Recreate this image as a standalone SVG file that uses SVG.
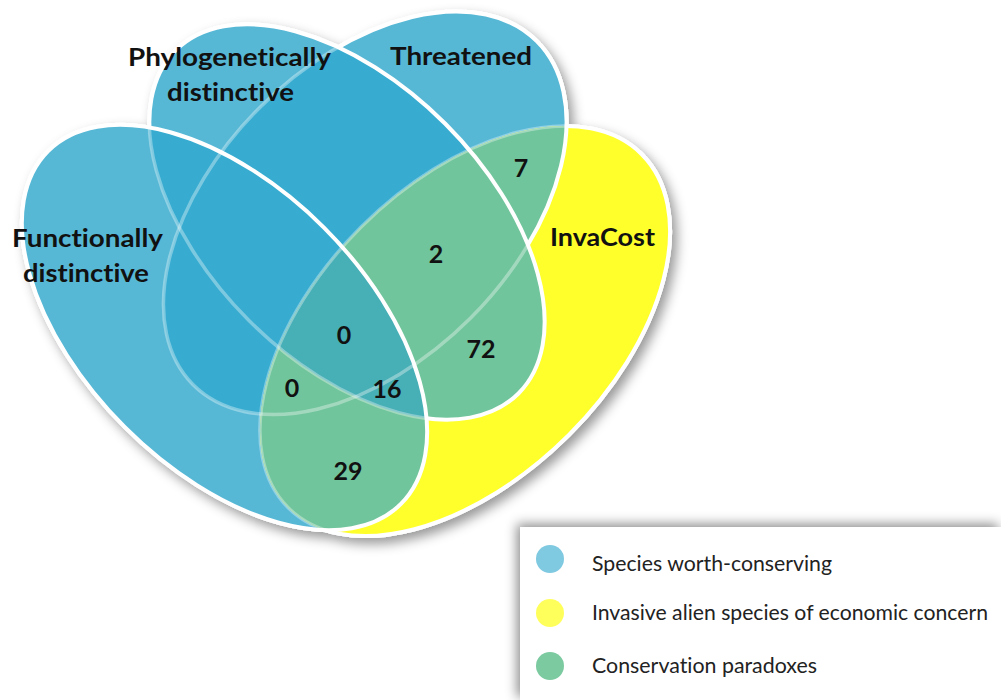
<svg xmlns="http://www.w3.org/2000/svg" xmlns:xlink="http://www.w3.org/1999/xlink" width="1001" height="700" viewBox="0 0 1001 700">
<style>
text{font-variant-ligatures:none;font-feature-settings:"liga" 0}
.lbl{font-family:Lato,"Liberation Sans",sans-serif;font-weight:bold;font-size:25px;fill:#111}
.num{font-family:Lato,"Liberation Sans",sans-serif;font-weight:bold;font-size:25px;fill:#111;text-anchor:middle}
.leg{font-family:Lato,"Liberation Sans",sans-serif;font-size:21px;fill:#222}
.full{fill:none;stroke:#fff;stroke-width:4}
.faint{fill:none;stroke:#fff;stroke-width:3.5;stroke-opacity:.35}
</style>
<defs>
<ellipse id="eA" cx="224.5" cy="327.5" rx="249.5" ry="141" transform="rotate(45 224.5 327.5)"/>
<ellipse id="eB" cx="347" cy="222" rx="242.5" ry="139" transform="rotate(45 347 222)"/>
<ellipse id="eC" cx="365" cy="213" rx="243" ry="149" transform="rotate(-45 365 213)"/>
<ellipse id="eD" cx="465" cy="331" rx="250" ry="147" transform="rotate(-45 465 331)"/>
<clipPath id="cA"><use xlink:href="#eA"/></clipPath>
<clipPath id="cB"><use xlink:href="#eB"/></clipPath>
<clipPath id="cC"><use xlink:href="#eC"/></clipPath>
<mask id="mNotA" maskUnits="userSpaceOnUse" x="0" y="0" width="1001" height="700">
<rect width="1001" height="700" fill="#fff"/><use xlink:href="#eA" fill="#000"/></mask>
<mask id="mA" maskUnits="userSpaceOnUse" x="0" y="0" width="1001" height="700">
<use xlink:href="#eA" fill="#fff"/></mask>
<mask id="mNotAB" maskUnits="userSpaceOnUse" x="0" y="0" width="1001" height="700">
<rect width="1001" height="700" fill="#fff"/><use xlink:href="#eA" fill="#000"/><use xlink:href="#eB" fill="#000"/></mask>
<mask id="mAB" maskUnits="userSpaceOnUse" x="0" y="0" width="1001" height="700">
<use xlink:href="#eA" fill="#fff"/><use xlink:href="#eB" fill="#fff"/></mask>
<mask id="mNotABC" maskUnits="userSpaceOnUse" x="0" y="0" width="1001" height="700">
<rect width="1001" height="700" fill="#fff"/><use xlink:href="#eA" fill="#000"/><use xlink:href="#eB" fill="#000"/><use xlink:href="#eC" fill="#000"/></mask>
<mask id="mABC" maskUnits="userSpaceOnUse" x="0" y="0" width="1001" height="700">
<use xlink:href="#eA" fill="#fff"/><use xlink:href="#eB" fill="#fff"/><use xlink:href="#eC" fill="#fff"/></mask>
<filter id="shadow" x="-10%" y="-10%" width="130%" height="130%">
<feDropShadow dx="5" dy="6" stdDeviation="6" flood-color="#000" flood-opacity="0.4"/>
</filter>
<filter id="legShadow" x="-10%" y="-20%" width="130%" height="150%">
<feDropShadow dx="-3" dy="-3" stdDeviation="6" flood-color="#000" flood-opacity="0.45"/>
</filter>
</defs>
<rect width="1001" height="700" fill="#fff"/>

<g id="underlay" filter="url(#shadow)" fill="#fff" stroke="#fff" stroke-width="4">
<use xlink:href="#eA"/><use xlink:href="#eB"/><use xlink:href="#eC"/><use xlink:href="#eD"/>
</g>

<g id="fills">
<use xlink:href="#eA" fill="#57B8D6"/>
<use xlink:href="#eB" fill="#57B8D6"/>
<use xlink:href="#eC" fill="#57B8D6"/>
<use xlink:href="#eA" fill="#37ACD0" clip-path="url(#cB)"/>
<use xlink:href="#eA" fill="#37ACD0" clip-path="url(#cC)"/>
<use xlink:href="#eB" fill="#37ACD0" clip-path="url(#cC)"/>
<use xlink:href="#eD" fill="#FFFF2B"/>
<use xlink:href="#eD" fill="#71C59C" clip-path="url(#cA)"/>
<use xlink:href="#eD" fill="#71C59C" clip-path="url(#cB)"/>
<use xlink:href="#eD" fill="#71C59C" clip-path="url(#cC)"/>
<g clip-path="url(#cA)"><use xlink:href="#eD" fill="#47AFB6" clip-path="url(#cB)"/></g>
</g>

<g id="set-invacost">
<use xlink:href="#eD" class="full" mask="url(#mNotABC)"/>
<use xlink:href="#eD" class="faint" mask="url(#mABC)"/>
</g>
<g id="set-threatened">
<use xlink:href="#eC" class="full" mask="url(#mNotAB)"/>
<use xlink:href="#eC" class="faint" mask="url(#mAB)"/>
</g>
<g id="set-phylogenetic">
<use xlink:href="#eB" class="full" mask="url(#mNotA)"/>
<use xlink:href="#eB" class="faint" mask="url(#mA)"/>
</g>
<g id="set-functional">
<use xlink:href="#eA" class="full"/>
</g>

<g id="connectors"/>

<g id="labels">
<text class="lbl" x="128" y="66" textLength="203" lengthAdjust="spacingAndGlyphs">Phylogenetically</text>
<text class="lbl" x="167" y="101" textLength="127" lengthAdjust="spacingAndGlyphs">distinctive</text>
<text class="lbl" x="390" y="65" textLength="142" lengthAdjust="spacingAndGlyphs">Threatened</text>
<text class="lbl" x="12" y="247" textLength="151" lengthAdjust="spacingAndGlyphs">Functionally</text>
<text class="lbl" x="23" y="282" textLength="126" lengthAdjust="spacingAndGlyphs">distinctive</text>
<text class="lbl" x="550" y="246" textLength="105" lengthAdjust="spacingAndGlyphs">InvaCost</text>
</g>

<g id="counts">
<text class="num" x="521" y="177">7</text>
<text class="num" x="436" y="263">2</text>
<text class="num" x="481" y="358">72</text>
<text class="num" x="344" y="344">0</text>
<text class="num" x="292" y="397">0</text>
<text class="num" x="387" y="398">16</text>
<text class="num" x="348" y="480">29</text>
</g>

<g id="legend">
<rect x="520" y="527" width="481" height="173" fill="#fff" filter="url(#legShadow)"/>
<circle cx="550" cy="559" r="14" fill="#7FC9E1"/>
<circle cx="550" cy="613" r="14" fill="#FFFF5C"/>
<circle cx="550" cy="666" r="14" fill="#7BCAA0"/>
<text class="leg" x="592" y="571" textLength="240" lengthAdjust="spacingAndGlyphs">Species worth-conserving</text>
<text class="leg" x="592" y="620" textLength="396" lengthAdjust="spacingAndGlyphs">Invasive alien species of economic concern</text>
<text class="leg" x="592" y="673" textLength="225" lengthAdjust="spacingAndGlyphs">Conservation paradoxes</text>
</g>
</svg>
